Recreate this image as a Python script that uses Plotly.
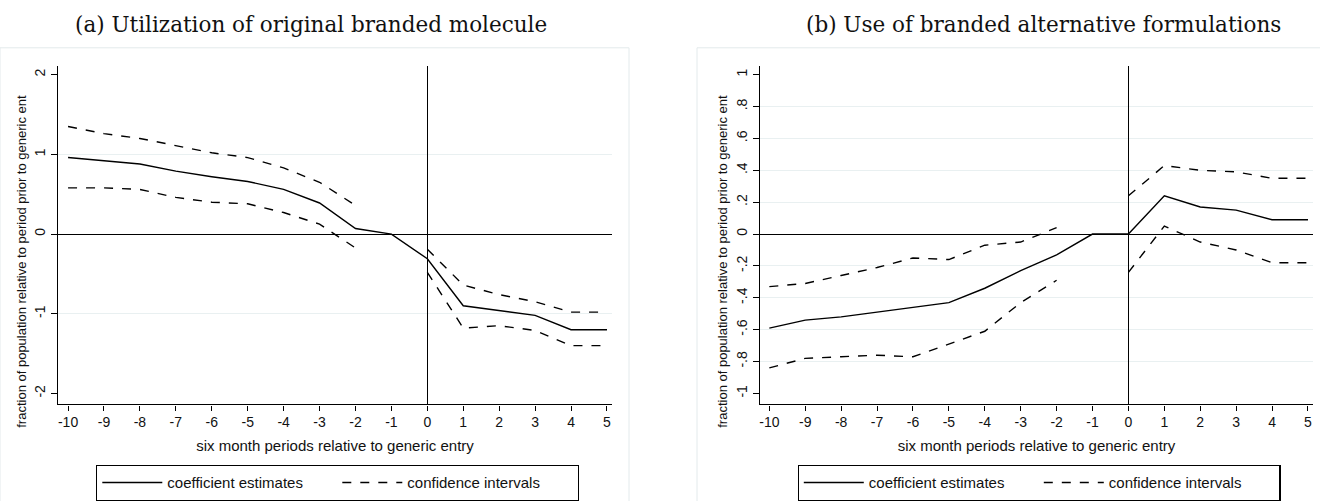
import plotly.graph_objects as go

W, H = 1320, 501

periods = list(range(-10, 6))

left_coef = [0.96, 0.92, 0.88, 0.79, 0.72, 0.66, 0.56, 0.39, 0.07, 0.0, -0.31, -0.90, -0.96, -1.02, -1.20, -1.20]
left_upper = [1.35, 1.26, 1.20, 1.11, 1.02, 0.96, 0.83, 0.65, 0.36, None, -0.19, -0.64, -0.76, -0.85, -0.98, -0.98]
left_lower = [0.58, 0.58, 0.56, 0.46, 0.40, 0.38, 0.27, 0.125, -0.175, None, -0.48, -1.18, -1.15, -1.21, -1.40, -1.40]

right_coef = [-0.59, -0.54, -0.52, -0.49, -0.46, -0.43, -0.34, -0.23, -0.13, 0.0, 0.0, 0.24, 0.17, 0.15, 0.09, 0.09]
right_upper = [-0.33, -0.31, -0.26, -0.21, -0.15, -0.16, -0.07, -0.05, 0.04, None, 0.24, 0.43, 0.40, 0.39, 0.35, 0.35]
right_lower = [-0.84, -0.78, -0.77, -0.76, -0.77, -0.69, -0.61, -0.43, -0.29, None, -0.24, 0.05, -0.05, -0.10, -0.18, -0.18]

left_yticks = [-2, -1, 0, 1, 2]
left_ylabels = ["-2", "-1", "0", "1", "2"]
left_grid = [-1, 1]
right_yticks = [-1, -0.8, -0.6, -0.4, -0.2, 0, 0.2, 0.4, 0.6, 0.8, 1]
right_ylabels = ["-1", "-.8", "-.6", "-.4", "-.2", "0", ".2", ".4", ".6", ".8", "1"]
right_grid = [-0.8, -0.6, -0.4, -0.2, 0.2, 0.4, 0.6, 0.8]

title_a = "(a) Utilization of original branded molecule"
title_b = "(b) Use of branded alternative formulations"
ytitle = "fraction of population relative to period prior to generic ent"
xtitle = "six month periods relative to generic entry"
name_coef = "coefficient estimates"
name_ci = "confidence intervals"

SANS = "Liberation Sans, Arial, sans-serif"
SERIF = "DejaVu Serif, serif"
GRID = "#e9f0f1"
FRAME = "#e3eaec"
INK = "#111"


def px(x):
    return x / W


def py(y):
    return (H - y) / H


fig = go.Figure()

panels = [
    dict(coef=left_coef, up=left_upper, lo=left_lower, xa="x", ya="y", legend="legend"),
    dict(coef=right_coef, up=right_upper, lo=right_lower, xa="x2", ya="y2", legend="legend2"),
]
for p in panels:
    fig.add_trace(go.Scatter(x=periods, y=p["coef"], mode="lines", name=name_coef,
                             line=dict(color="black", width=1.4), xaxis=p["xa"], yaxis=p["ya"],
                             legend=p["legend"], connectgaps=False))
    fig.add_trace(go.Scatter(x=periods, y=p["up"], mode="lines", name=name_ci,
                             line=dict(color="black", width=1.4, dash="dash"), xaxis=p["xa"], yaxis=p["ya"],
                             legend=p["legend"], connectgaps=False))
    fig.add_trace(go.Scatter(x=periods, y=p["lo"], mode="lines", name=name_ci, showlegend=False,
                             line=dict(color="black", width=1.4, dash="dash"), xaxis=p["xa"], yaxis=p["ya"],
                             legend=p["legend"], connectgaps=False))

# invisible traces so the label axes get their own subplots
fig.add_trace(go.Scatter(x=[None], y=[None], xaxis="x", yaxis="y3", showlegend=False, hoverinfo="skip"))
fig.add_trace(go.Scatter(x=[None], y=[None], xaxis="x2", yaxis="y4", showlegend=False, hoverinfo="skip"))

# plot regions (pixels)
L = dict(x0=58, x1=612, top=66, bot=406)
R = dict(x0=760, x1=1313, top=66, bot=406)

xcommon = dict(
    tickmode="array", tickvals=periods, ticktext=[str(v) for v in periods],
    showline=True, linecolor="black", linewidth=1.3, ticks="outside", ticklen=5, tickwidth=1.3,
    tickcolor="black", showgrid=False, zeroline=True, zerolinecolor="black", zerolinewidth=1.3,
    tickfont=dict(family=SANS, size=14, color=INK),
    title=dict(text=xtitle, font=dict(family=SANS, size=15, color=INK), standoff=11),
)

ylab = dict(tickangle=-90, showline=True, linecolor="black", linewidth=1.3, ticks="outside", ticklen=6,
            tickwidth=1.3, tickcolor="black", showgrid=False, zeroline=False,
            tickfont=dict(family=SANS, size=14, color=INK))

leg = dict(orientation="h", xanchor="center", yanchor="top",
           bordercolor="black", borderwidth=1.3, bgcolor="white",
           font=dict(family=SANS, size=15, color=INK), entrywidth=165, itemwidth=60,
           tracegroupgap=0)

fig.update_layout(
    width=W, height=H, margin=dict(l=0, r=0, t=0, b=0),
    paper_bgcolor="white", plot_bgcolor="white", showlegend=True,
    xaxis=dict(domain=[px(L["x0"]), px(L["x1"])], range=[-10.28, 5.14], anchor="y", **xcommon),
    xaxis2=dict(domain=[px(R["x0"]), px(R["x1"])], range=[-10.26, 5.14], anchor="y2", **xcommon),
    yaxis=dict(domain=[py(L["bot"]), py(L["top"])], range=[-2.1375, 2.1125], anchor="x",
               tickmode="array", tickvals=left_grid, showticklabels=False, ticks="",
               showgrid=True, gridcolor=GRID, gridwidth=1,
               zeroline=True, zerolinecolor="black", zerolinewidth=1.3, showline=False),
    yaxis3=dict(overlaying="y", anchor="x", range=[-2.1375, 2.1125],
                tickmode="array", tickvals=left_yticks, ticktext=left_ylabels, **ylab),
    yaxis2=dict(domain=[py(R["bot"]), py(R["top"])], range=[-1.06875, 1.05625], anchor="x2",
                tickmode="array", tickvals=right_grid, showticklabels=False, ticks="",
                showgrid=True, gridcolor=GRID, gridwidth=1,
                zeroline=True, zerolinecolor="black", zerolinewidth=1.3, showline=False),
    yaxis4=dict(overlaying="y2", anchor="x2", range=[-1.06875, 1.05625],
                tickmode="array", tickvals=right_yticks, ticktext=right_ylabels, **ylab),
    legend=dict(x=px(337.5), y=py(467), **leg),
    legend2=dict(x=px(1039), y=py(467), **leg),
)

# outer light frames of each graph
fig.add_shape(type="rect", xref="paper", yref="paper", x0=px(0), x1=px(629), y0=-0.05, y1=py(48),
              line=dict(color=FRAME, width=1), fillcolor="rgba(0,0,0,0)", layer="below")
fig.add_shape(type="rect", xref="paper", yref="paper", x0=px(697), x1=1.05, y0=-0.05, y1=py(48),
              line=dict(color=FRAME, width=1), fillcolor="rgba(0,0,0,0)", layer="below")

# panel titles
fig.add_annotation(text=title_a, xref="paper", yref="paper", x=px(311), y=py(25), showarrow=False,
                   xanchor="center", yanchor="middle", font=dict(family=SERIF, size=21.5, color=INK))
fig.add_annotation(text=title_b, xref="paper", yref="paper", x=px(1043), y=py(25), showarrow=False,
                   xanchor="center", yanchor="middle", font=dict(family=SERIF, size=21.5, color=INK))

# y axis titles (clipped at the graph frame in the original)
for xc in (22, 723):
    fig.add_annotation(text=ytitle, xref="paper", yref="paper", x=px(xc), y=py(432), showarrow=False,
                       textangle=-90, xanchor="center", yanchor="bottom",
                       font=dict(family=SANS, size=13, color=INK))

fig.write_html("out.html")
